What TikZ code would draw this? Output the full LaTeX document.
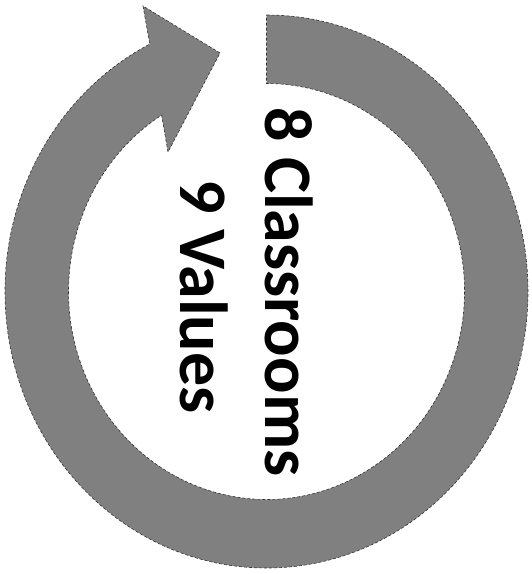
\documentclass[tikz,border=0pt]{standalone}
\usepackage{fontspec}
\setmainfont{Carlito}
\begin{document}
\begin{tikzpicture}[
  x=1pt, y=1pt,
  ring/.style={fill=black!50, draw=black!80, densely dashed, line width=0.6pt},
  label/.style={rotate=-90, anchor=base west, inner sep=0pt, font=\fontsize{68}{72}\selectfont\bfseries},
]
  \useasboundingbox (0,0) rectangle (532,574);
  % circular arrow, tail at the top, head at the upper left
  \draw[ring] (266.5,559)
    arc[start angle=90, end angle=-243.5, x radius=261.5, y radius=276.5]
    -- (143,568) -- (220,521) -- (168,422) -- (161.6,458.9)
    arc[start angle=-238, end angle=90, x radius=198, y radius=208]
    -- cycle;
  \node[label] (classrooms) at (265,467) {8 Classrooms};
  \node[label] (values) at (180,395) {9 Values};
\end{tikzpicture}
\end{document}
